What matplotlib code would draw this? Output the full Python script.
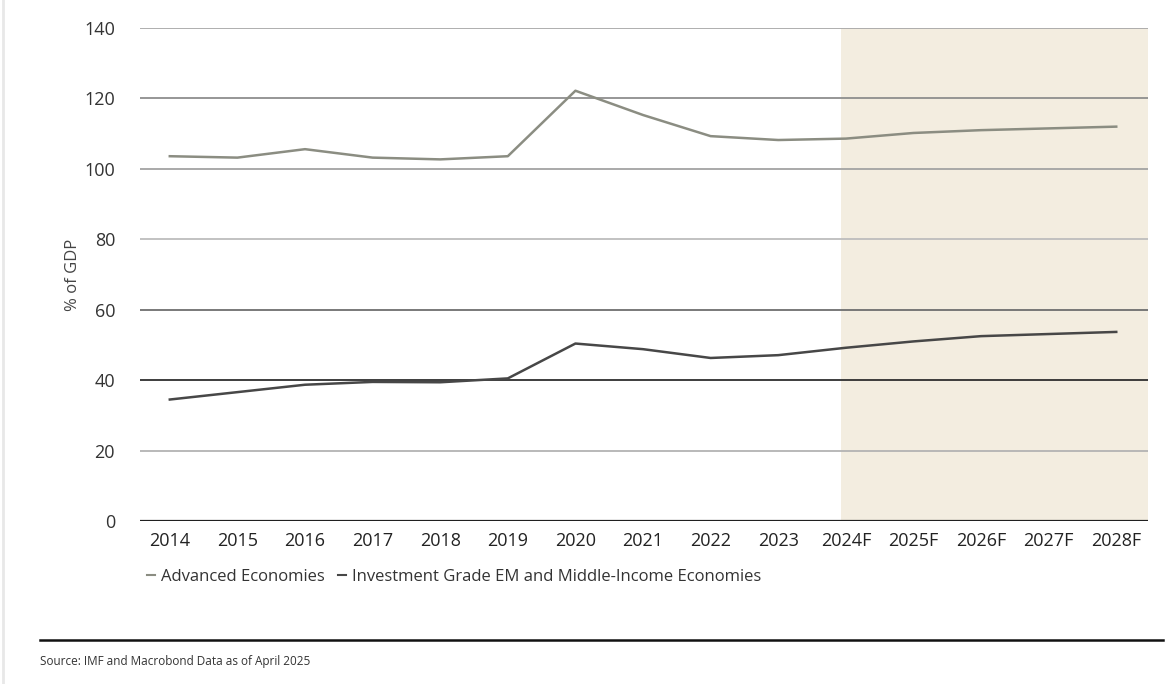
import matplotlib
matplotlib.use("Agg")
import matplotlib.pyplot as plt
from matplotlib.lines import Line2D

years = ["2014", "2015", "2016", "2017", "2018", "2019", "2020", "2021", "2022",
         "2023", "2024F", "2025F", "2026F", "2027F", "2028F"]
advanced = [103.6, 103.2, 105.6, 103.2, 102.7, 103.6, 122.2, 115.3, 109.3,
            108.2, 108.6, 110.2, 111.0, 111.5, 112.0]
em_mid = [34.5, 36.6, 38.7, 39.5, 39.4, 40.5, 50.4, 48.8, 46.3,
          47.1, 49.2, 51.0, 52.5, 53.1, 53.7]
yticks = [0, 20, 40, 60, 80, 100, 120, 140]
grid_colors = ["#202020", "#b3b3b3", "#2e2e2e", "#6e6e6e", "#bdbdbd", "#a3a3a3", "#8e8e8e", "#a8a8a8"]
series_names = ["Advanced Economies", "Investment Grade EM and Middle-Income Economies"]
series_colors = ["#8b8d82", "#474747"]
forecast_start = 9.93

plt.rcParams['font.family'] = ['Open Sans', 'DejaVu Sans']

fig = plt.figure(figsize=(11.73, 6.84), dpi=100)
ax = fig.add_axes([0.1194, 0.2383, 0.8593, 0.7207])

x = list(range(len(years)))
ax.set_xlim(-0.44, len(years) - 1 + 0.47)
ax.set_ylim(0, 140)

ax.axvspan(forecast_start, len(years) - 1 + 0.47, color="#f3ede0", zorder=0, lw=0)
for v, c in zip(yticks, grid_colors):
    ax.axhline(v, color=c, lw=1.6 if v == 0 else 1.3, zorder=1)

ax.plot(x, advanced, color=series_colors[0], lw=1.8, zorder=3)
ax.plot(x, em_mid, color=series_colors[1], lw=1.8, zorder=3)

for s in ax.spines.values():
    s.set_visible(False)
ax.set_yticks(yticks)
ax.set_yticklabels([str(v) for v in yticks], fontsize=13, color="#333333")
ax.set_xticks(x)
ax.set_xticklabels(years, fontsize=13, color="#222222")
ax.tick_params(axis='both', length=0)
ax.tick_params(axis='y', pad=18)
ax.tick_params(axis='x', pad=8)
ax.set_ylabel("% of GDP", fontsize=12, color="#444444", labelpad=2)

handles = [Line2D([0], [0], color=c, lw=1.5) for c in series_colors]
leg = fig.legend(handles, series_names, loc="upper left", bbox_to_anchor=(0.125, 0.168),
                 ncol=2, frameon=False, fontsize=12, handlelength=0.5, handletextpad=0.35,
                 columnspacing=0.8, labelcolor="#333333", borderaxespad=0, borderpad=0)

fig.add_artist(Line2D([40 / 1173, 1163 / 1173], [1 - 640 / 684, 1 - 640 / 684],
                      transform=fig.transFigure, color="#111111", lw=1.8))
fig.add_artist(Line2D([3 / 1173, 3 / 1173], [0, 1], transform=fig.transFigure,
                      color="#e8e8e8", lw=2))
fig.text(40 / 1173, 1 - 661 / 684, "Source: IMF and Macrobond Data as of April 2025",
         fontsize=8.5, color="#333333", va="center", ha="left")

fig.savefig("out.png", dpi=100, facecolor="white")
